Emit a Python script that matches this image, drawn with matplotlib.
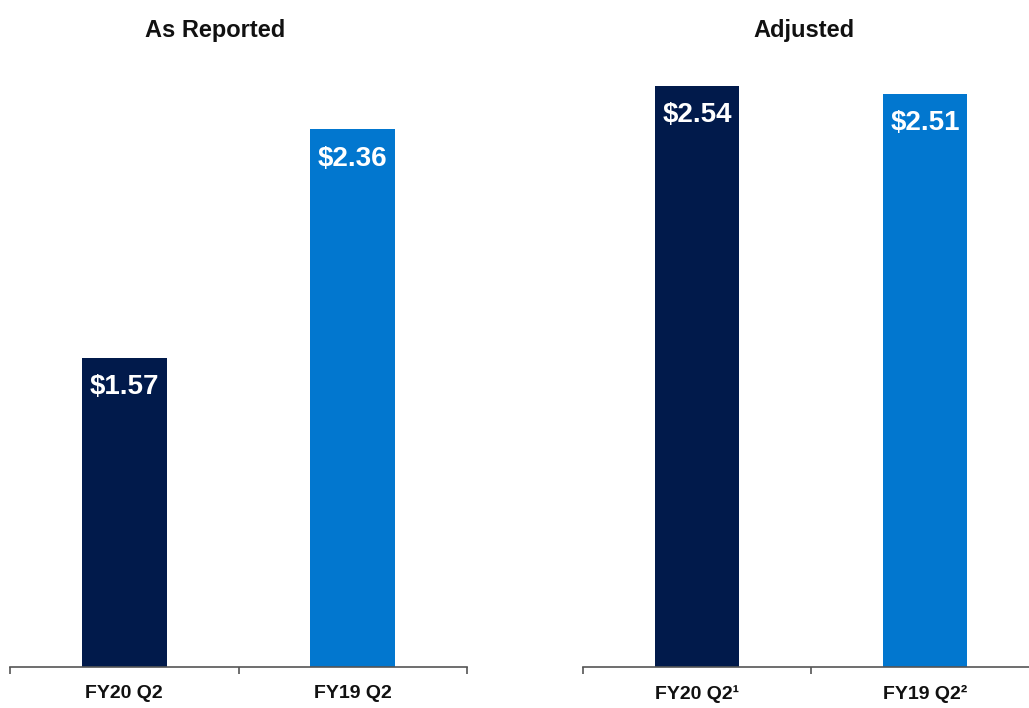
import matplotlib
matplotlib.use("Agg")
import matplotlib.pyplot as plt
from matplotlib.ticker import FixedLocator

# Data
left_title = "As Reported"
right_title = "Adjusted"
left_categories = ["FY20 Q2", "FY19 Q2"]
left_values = [1.57, 2.36]
right_categories = ["FY20 Q2\u00b9", "FY19 Q2\u00b2"]
right_values = [2.54, 2.51]
bar_colors = ["#011a4b", "#0277cf"]

FONT = ["Liberation Sans Narrow", "Liberation Sans", "DejaVu Sans"]
plt.rcParams['font.family'] = FONT

W, H = 1029, 708
fig = plt.figure(figsize=(W / 100, H / 100), dpi=100)

def px_axes(x0, x1, y_top, y_bot):
    return fig.add_axes([x0 / W, 1 - y_bot / H, (x1 - x0) / W, (y_bot - y_top) / H])

ymin, ymax = 0.5, 2.75
axes = [px_axes(10, 467, 667 - (ymax - ymin) * 289, 667),
        px_axes(583, 1039, 667 - (ymax - ymin) * 285, 667)]
cats_list = [left_categories, right_categories]
vals_list = [left_values, right_values]

for ax, cats, vals in zip(axes, cats_list, vals_list):
    x = list(range(len(cats)))
    ax.bar(x, vals, width=0.37, color=bar_colors, zorder=2)
    ax.set_xlim(-0.5, len(cats) - 0.5)
    ax.set_ylim(ymin, ymax)
    for s in ["top", "right", "left"]:
        ax.spines[s].set_visible(False)
    ax.spines["bottom"].set_color("#555555")
    ax.spines["bottom"].set_linewidth(1.2)
    ax.set_yticks([])
    ax.set_xticks(x)
    ax.set_xticklabels(cats, fontsize=14, fontweight="bold", color="#111111")
    ax.tick_params(axis="x", which="major", length=0, pad=13)
    ax.xaxis.set_minor_locator(FixedLocator([i - 0.5 for i in range(len(cats) + 1)]))
    ax.tick_params(axis="x", which="minor", length=5, width=1.2, color="#555555", direction="out")
    ax.patch.set_visible(False)
    for xi, v in zip(x, vals):
        ax.annotate(f"${v:.2f}", xy=(xi, v), xytext=(0, -21), textcoords="offset points",
                    ha="center", va="center", color="white", fontsize=20, fontweight="bold")

fig.text(215 / W, 1 - 30 / H, left_title, ha="center", va="center",
         fontsize=17, fontweight="bold", color="#111111")
fig.text(804 / W, 1 - 30 / H, right_title, ha="center", va="center",
         fontsize=17, fontweight="bold", color="#111111")

fig.savefig("out.png", dpi=100)
